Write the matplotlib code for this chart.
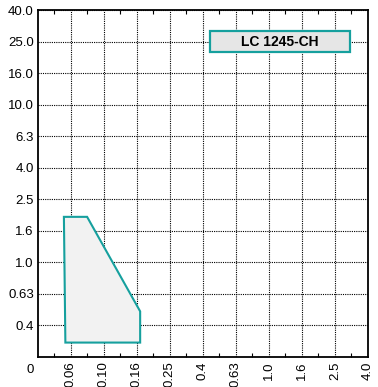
import numpy as np
import matplotlib
matplotlib.use("Agg")
import matplotlib.pyplot as plt
from matplotlib.patches import Rectangle
from matplotlib.ticker import FixedLocator, FixedFormatter

plt.rcParams['font.family'] = ['Liberation Sans', 'DejaVu Sans']

# grid series (equally spaced on the chart)
x_grid = [0.04, 0.06, 0.10, 0.16, 0.25, 0.4, 0.63, 1.0, 1.6, 2.5, 4.0]
x_labels = ["0.06", "0.10", "0.16", "0.25", "0.4", "0.63", "1.0", "1.6", "2.5", "4.0"]
y_grid = [0.25, 0.4, 0.63, 1.0, 1.6, 2.5, 4.0, 6.3, 10.0, 16.0, 25.0, 40.0]
y_labels = ["0.4", "0.63", "1.0", "1.6", "2.5", "4.0", "6.3", "10.0", "16.0", "25.0", "40.0"]

# operating range polygon
area_x = [0.055, 0.077, 0.167, 0.167, 0.056]
area_y = [1.95, 1.95, 0.49, 0.31, 0.31]
model = "LC 1245-CH"

teal = "#16a09e"


def make_scale(grid):
    lg = np.log(grid)
    idx = np.arange(len(grid))

    def fwd(v):
        v = np.asarray(v, dtype=float)
        return np.interp(np.log(np.clip(v, 1e-9, None)), lg, idx)

    def inv(i):
        return np.exp(np.interp(i, idx, lg))
    return fwd, inv


fig = plt.figure(figsize=(3.78, 3.87), dpi=100)
ax = fig.add_axes([0.1005, 0.0775, 0.873, 0.8966])
ax.set_xscale('function', functions=make_scale(x_grid))
ax.set_yscale('function', functions=make_scale(y_grid))
ax.set_xlim(x_grid[0], x_grid[-1])
ax.set_ylim(y_grid[0], y_grid[-1])

ax.xaxis.set_major_locator(FixedLocator(x_grid[1:]))
ax.xaxis.set_major_formatter(FixedFormatter(x_labels))
ax.yaxis.set_major_locator(FixedLocator(y_grid[1:]))
ax.yaxis.set_major_formatter(FixedFormatter(y_labels))
ax.xaxis.set_minor_locator(FixedLocator(
    [np.sqrt(a * b) for a, b in zip(x_grid[:-1], x_grid[1:])]))
ax.yaxis.set_minor_locator(FixedLocator([]))

ax.grid(True, which='major', color='black', linestyle=(0, (1, 1)), linewidth=0.8)
ax.tick_params(axis='both', which='major', length=0, labelsize=9.5, pad=3)
ax.tick_params(axis='x', which='major', labelrotation=90)
ax.tick_params(axis='x', which='minor', direction='in', length=3, top=True, width=0.8)
for s in ax.spines.values():
    s.set_linewidth(1.3)

ax.fill(area_x, area_y, facecolor='#f2f2f2', edgecolor=teal, linewidth=1.5, zorder=3)

# model label box
ax.add_patch(Rectangle((0.521, 0.879), 0.424, 0.060, transform=ax.transAxes,
                       facecolor='#e6e6e6', edgecolor=teal, linewidth=1.6, zorder=4))
ax.text(0.733, 0.909, model, transform=ax.transAxes, ha='center', va='center',
        fontsize=10, fontweight='bold', zorder=5)

ax.text(-0.024, -0.037, "0", transform=ax.transAxes, ha='center', va='center',
        fontsize=9.5)

fig.savefig("out.png", dpi=100)
